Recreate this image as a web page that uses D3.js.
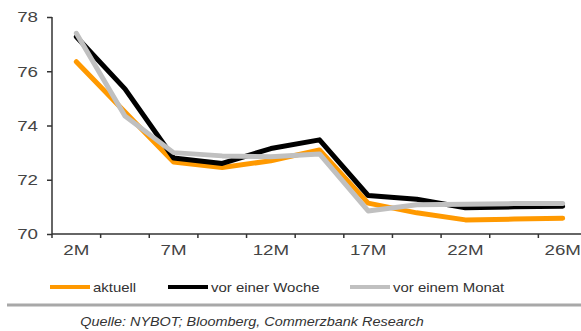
<!DOCTYPE html>
<html><head><meta charset="utf-8">
<script src="https://cdn.jsdelivr.net/npm/d3@7"></script>
<style>
html,body{margin:0;padding:0;background:#fff;}
svg{display:block;font-family:"Liberation Sans",Arial,sans-serif;}
</style></head>
<body>
<svg id="c" width="581" height="331"></svg>
<script>
const categories = ["2M","4M","7M","9M","12M","14M","17M","19M","22M","24M","26M"];
const xTickLabels = ["2M","7M","12M","17M","22M","26M"];
const yTicks = [70,72,74,76,78];
const aktuell = [76.35,74.5,72.65,72.45,72.7,73.1,71.14,70.78,70.52,70.55,70.58];
const vorWoche = [77.27,75.35,72.8,72.6,73.15,73.47,71.42,71.28,70.97,71.0,71.02];
const vorMonat = [77.4,74.35,73.0,72.88,72.85,72.95,70.85,71.08,71.1,71.12,71.12];
const seriesNames = ["aktuell","vor einer Woche","vor einem Monat"];
const seriesColors = ["#FF9900","#000000","#C0C0C0"];
const seriesData = [aktuell, vorWoche, vorMonat];
const source = "Quelle: NYBOT; Bloomberg, Commerzbank Research";

const svg = d3.select("#c");
const x = d3.scaleBand().domain(categories).range([52, 587]);
const y = d3.scaleLinear().domain([70,78]).range([234,17]);
const axisColor = "#333";
const sxTick = 1.25, sxLeg = 1.15, sxSrc = 1.11;

// lines
const line = d3.line().x((d,i)=>x(categories[i])+x.bandwidth()/2).y(d=>y(d));
seriesData.forEach((s,k)=>{
  svg.append("path").datum(s).attr("d",line).attr("fill","none")
    .attr("stroke",seriesColors[k]).attr("stroke-width",5)
    .attr("stroke-linejoin","round").attr("stroke-linecap","round");
});

// y axis
const yAx = svg.append("g").attr("transform","translate(52,0)")
  .call(d3.axisLeft(y).tickValues(yTicks).tickSize(5).tickPadding(9).tickFormat(d3.format("d")));
yAx.select(".domain").attr("stroke",axisColor).attr("stroke-width",1.5).attr("d","M0,17V234");
yAx.selectAll(".tick line").attr("stroke",axisColor).attr("stroke-width",1.5);
yAx.selectAll("text").attr("fill","#444").attr("font-size",15).attr("font-family","Liberation Sans, Arial")
  .attr("x",-14/sxTick).attr("transform",`scale(${sxTick},1)`);

// x axis
const xAx = svg.append("g").attr("transform","translate(0,234)");
xAx.append("line").attr("x1",52).attr("x2",581).attr("y1",0).attr("y2",0)
  .attr("stroke",axisColor).attr("stroke-width",1.5);
xAx.selectAll("line.tk").data(categories).enter().append("line").attr("class","tk")
  .attr("x1",d=>x(d)).attr("x2",d=>x(d)).attr("y1",0).attr("y2",4)
  .attr("stroke",axisColor).attr("stroke-width",1.5);
xAx.selectAll("text.lbl").data(xTickLabels).enter().append("text").attr("class","lbl")
  .attr("transform",d=>`translate(${x(d)+x.bandwidth()/2},21) scale(${sxTick},1)`)
  .attr("text-anchor","middle").attr("font-size",15).attr("fill","#444").text(d=>d);

// legend
const legX = [50,168,350];
seriesNames.forEach((n,k)=>{
  const g = svg.append("g").attr("transform",`translate(${legX[k]},287)`);
  g.append("line").attr("x1",0).attr("x2",40).attr("y1",0).attr("y2",0)
    .attr("stroke",seriesColors[k]).attr("stroke-width",4);
  g.append("text").attr("transform",`translate(43,5) scale(${sxLeg},1)`)
    .attr("font-size",13).attr("fill","#333").text(n);
});

// separator and source
svg.append("line").attr("x1",7).attr("x2",581).attr("y1",305).attr("y2",305)
  .attr("stroke","#A8A8A8").attr("stroke-width",3);
svg.append("text").attr("transform",`translate(252,326) scale(${sxSrc},1)`).attr("text-anchor","middle")
  .attr("font-size",13).attr("font-style","italic").attr("fill","#333").text(source);
</script>
</body></html>
